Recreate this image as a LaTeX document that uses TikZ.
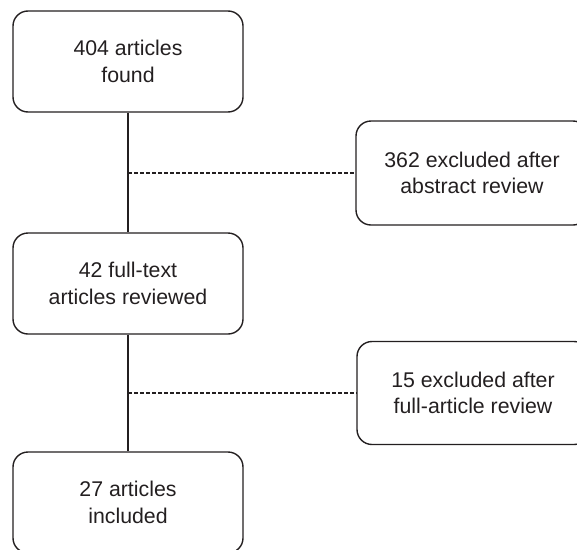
\documentclass[tikz,border=0pt]{standalone}
\usepackage{fontspec}
\setmainfont{Liberation Sans}
\definecolor{ink}{HTML}{231F20}
\begin{document}
\begin{tikzpicture}[x=1pt,y=-1pt,
  flowbox/.style={draw=ink, line width=1.4pt, rounded corners=15pt, align=center,
    text=ink, font=\fontsize{21.3}{26.5}\selectfont, inner sep=0pt},
  link/.style={draw=ink, line width=1.4pt},
  dashlink/.style={draw=ink, line width=1.4pt, dash pattern=on 4pt off 2pt}]
\useasboundingbox (0,0) rectangle (577,549);
\clip (0,0) rectangle (577,549);
\node[flowbox, minimum width=230pt, minimum height=101pt] (found) at (128,61.5) {404 articles\\found};
\node[flowbox, minimum width=232pt, minimum height=104pt] (abs) at (472,173) {362 excluded after\\abstract review};
\node[flowbox, minimum width=230pt, minimum height=101pt] (full) at (128,283.5) {42 full-text\\articles reviewed};
\node[flowbox, minimum width=232pt, minimum height=103pt] (fart) at (473,393) {15 excluded after\\full-article review};
\node[flowbox, minimum width=230pt, minimum height=101pt] (incl) at (128,502.5) {27 articles\\included};
\draw[link] (found.south) -- (full.north);
\draw[link] (full.south) -- (incl.north);
\coordinate (j1) at (found.south |- abs.west);
\coordinate (j2) at (full.south |- fart.west);
\draw[dashlink] (j1) -- (abs.west);
\draw[dashlink] (j2) -- (fart.west);
\end{tikzpicture}
\end{document}
